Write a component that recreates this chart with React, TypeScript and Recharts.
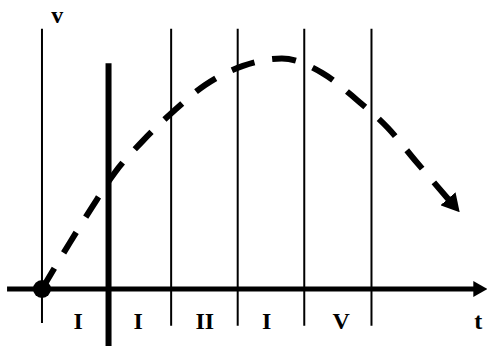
import React from "react";
import { ComposedChart, Line, Scatter, XAxis, YAxis, ReferenceLine, ReferenceDot } from "recharts";

// t = time (one unit per interval), v = speed (arbitrary units)
const curveT = [0, 0.42, 0.76, 1.11, 1.53, 2.0, 2.47, 3.05, 3.64, 4.25, 4.78, 5.25, 5.66, 6.18];
const curveV = [0, 1.0, 1.78, 2.54, 3.22, 3.87, 4.43, 4.85, 5.01, 4.7, 4.11, 3.5, 2.8, 1.93];

// interval boundaries (thin lines) and the v axis
const boundaries = [0, 1.96, 2.97, 3.98, 5.0];
const vAxisT = 1.01;

const zoneNames = ["I", "I", "II", "I", "V"];
const zoneCenters = [0.55, 1.46, 2.47, 3.41, 4.54];

const T_MIN = -0.637;
const T_MAX = 6.753;
const V_MIN = -1.239;
const V_MAX = 6.283;

const curveData = curveT.map((t, i) => ({ t, v: curveV[i] }));
const labelData = [
  ...zoneNames.map((text, i) => ({ t: zoneCenters[i], v: -0.87, text })),
  { t: 0.23, v: 5.78, text: "v" },
  { t: 6.62, v: -0.87, text: "t" },
];

const font = "'Liberation Serif', 'DejaVu Serif', serif";

const LabelShape = (props: any) => (
  <text
    x={props.cx}
    y={props.cy}
    textAnchor="middle"
    fontFamily={font}
    fontWeight={700}
    fontSize={24}
    fill="#000"
  >
    {props.payload.text}
  </text>
);

export default function App() {
  return (
    <div style={{ position: "absolute", left: 0, top: 0, background: "#fff" }}>
      <ComposedChart width={487} height={346} data={curveData} margin={{ top: 0, right: 0, bottom: 0, left: 0 }}>
        <defs>
          <marker
            id="curveArrow"
            markerUnits="userSpaceOnUse"
            markerWidth={18}
            markerHeight={20}
            viewBox="0 0 18 20"
            refX={2}
            refY={10}
            orient="auto"
          >
            <path d="M0,0 L18,10 L0,20 Z" fill="#000" />
          </marker>
          <marker
            id="axisArrow"
            markerUnits="userSpaceOnUse"
            markerWidth={14}
            markerHeight={16}
            viewBox="0 0 14 16"
            refX={1}
            refY={8}
            orient="auto"
          >
            <path d="M0,0 L14,8 L0,16 Z" fill="#000" />
          </marker>
        </defs>
        <XAxis dataKey="t" type="number" domain={[T_MIN, T_MAX]} allowDataOverflow hide />
        <YAxis dataKey="v" type="number" domain={[V_MIN, V_MAX]} allowDataOverflow hide />

        {boundaries.map((t, i) => (
          <ReferenceLine
            key={t}
            segment={[{ x: t, y: i === 0 ? -0.74 : -0.8 }, { x: t, y: 5.66 }]}
            stroke="#000"
            strokeWidth={2}
          />
        ))}
        <ReferenceLine
          segment={[{ x: vAxisT, y: V_MIN }, { x: vAxisT, y: 4.91 }]}
          stroke="#000"
          strokeWidth={6}
        />
        <ReferenceLine
          segment={[{ x: -0.53, y: 0 }, { x: 6.56, y: 0 }]}
          stroke="#000"
          strokeWidth={5}
          markerEnd="url(#axisArrow)"
        />

        <Line
          dataKey="v"
          type="monotone"
          stroke="#000"
          strokeWidth={6}
          strokeDasharray="24 18"
          dot={false}
          activeDot={false}
          markerEnd="url(#curveArrow)"
          isAnimationActive={false}
        />
        <ReferenceDot x={0} y={0} r={9} fill="#000" stroke="none" />
        <Scatter data={labelData} shape={LabelShape} isAnimationActive={false} />
      </ComposedChart>
    </div>
  );
}
